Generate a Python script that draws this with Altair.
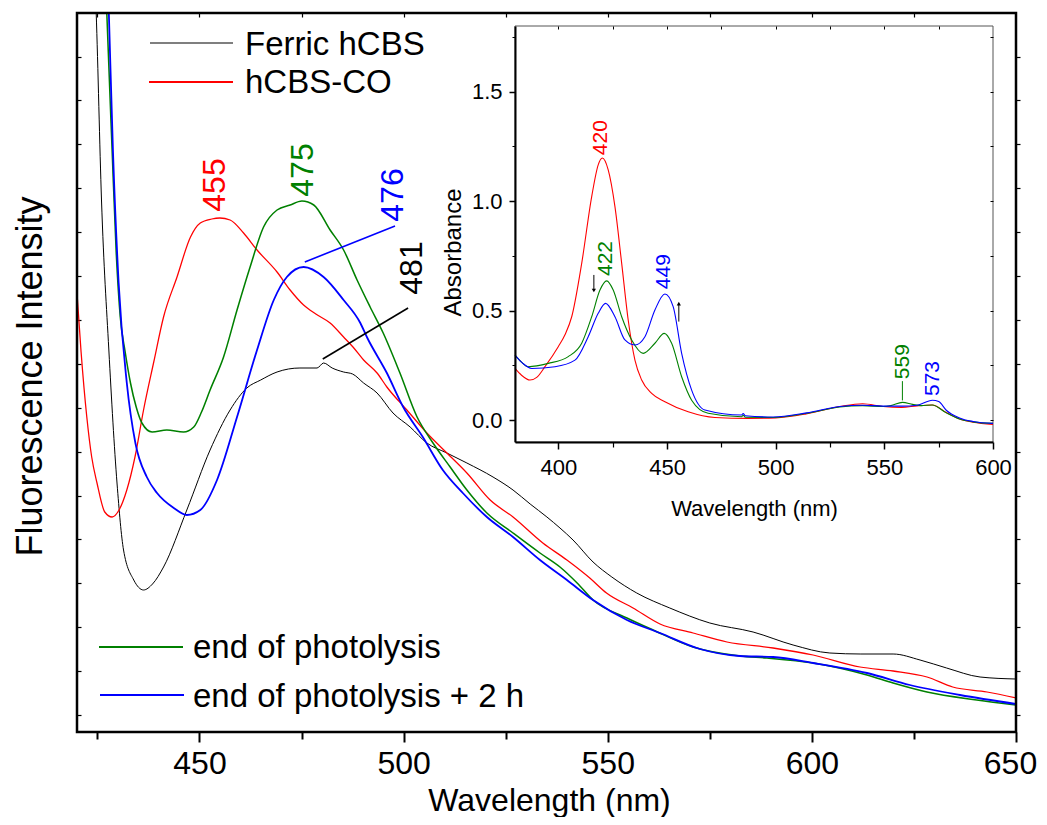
import altair as alt
import pandas as pd

# ---------------- main panel: fluorescence emission (arbitrary units) ----------------
ferric_nm = [423.9, 424.7, 426.0, 427.8, 429.8, 431.4, 433.9, 436.3, 438.5, 441.2, 446.9, 452.6,
             457.5, 461.6, 465.0, 469.0, 474.6, 478.8, 480.4, 482.5, 485.3, 487.5, 490.2, 493.5,
             497.4, 501.6, 505.7, 510.6, 515.5, 521.9, 526.8, 531.0, 535.1, 538.3, 541.5, 546.4,
             551.0, 557.1, 565.2, 575.0, 585.6, 595.4, 604.4, 612.0, 619.9, 626.5, 633.0, 641.2, 650.0]
ferric_int = [800, 719, 532, 382, 249, 182, 152, 142, 148, 165, 222, 282,
              322, 344, 352, 360, 364, 364, 369, 364, 360, 358, 349, 339,
              319, 305, 289, 279, 269, 255, 242, 228, 215, 204, 192, 170,
              155, 139, 124, 109, 100, 87, 79, 78, 78, 72, 64, 55, 53]

co_nm = [420.0, 421.0, 422.4, 423.6, 424.9, 426.8, 428.6, 430.3, 432.2, 434.2, 436.3, 438.8,
         441.2, 444.5, 447.8, 450.2, 453.0, 455.0, 457.5, 460.8, 464.1, 469.0, 472.2, 475.5,
         478.5, 482.0, 485.3, 487.6, 490.2, 493.5, 495.9, 500.8, 505.7, 510.6, 515.5, 521.2,
         526.8, 534.1, 540.0, 545.6, 549.7, 556.2, 562.8, 570.9, 579.2, 590.5, 600.3, 611.8,
         619.9, 628.2, 634.5, 642.9, 650.0]
co_int = [439, 380, 315, 275, 249, 220, 215, 222, 242, 275, 322, 370,
          415, 455, 495, 509, 513, 514, 512, 499, 482, 460, 442, 427,
          418, 409, 395, 385, 372, 359, 345, 322, 299, 279, 259, 232,
          215, 189, 172, 154, 139, 124, 108, 99, 90, 84, 77, 65,
          61, 55, 45, 40, 34]

end_nm = [426.6, 427.3, 428.6, 429.6, 430.6, 431.8, 433.1, 434.5, 435.9, 438.4, 442.0, 446.1,
          448.6, 450.5, 452.6, 455.9, 459.2, 462.4, 465.7, 469.0, 472.2, 475.1, 478.0, 482.0,
          485.3, 488.6, 491.8, 495.0, 499.1, 503.3, 507.2, 511.4, 515.5, 520.4, 526.8, 533.4,
          538.3, 542.5, 546.4, 554.7, 561.1, 570.9, 582.4, 589.0, 600.3, 613.5, 619.9, 628.2,
          640.4, 650.0]
end_int = [800, 719, 582, 480, 415, 380, 349, 325, 309, 300, 302, 300,
           305, 320, 342, 375, 422, 465, 505, 522, 527, 531, 527, 502,
           482, 452, 425, 399, 359, 315, 289, 265, 242, 219, 199, 179,
           165, 149, 132, 114, 102, 85, 76, 74, 69, 57, 49, 40,
           32, 27]

end2h_nm = [427.2, 427.8, 428.8, 430.2, 432.2, 434.3, 437.1, 439.6, 443.7, 446.9, 450.2, 454.3,
            459.2, 464.1, 468.2, 471.4, 475.5, 480.4, 485.3, 489.4, 491.0, 495.9, 499.9, 504.7,
            509.6, 514.5, 520.4, 526.8, 533.4, 540.0, 546.4, 554.7, 562.8, 572.6, 582.4, 590.5,
            600.3, 613.5, 624.0, 636.3, 650.0]
end2h_int = [800, 719, 582, 449, 349, 289, 255, 239, 224, 217, 222, 252,
             315, 382, 432, 455, 465, 455, 432, 409, 395, 359, 325, 295,
             262, 239, 215, 195, 172, 152, 132, 112, 99, 83, 76, 75,
             69, 59, 47, 37, 28]

series_names = ["Ferric hCBS", "hCBS-CO", "end of photolysis", "end of photolysis + 2 h"]
series_colors = ["#000000", "#ff0000", "#008000", "#0000ff"]
series_widths = [1.0, 1.8, 1.6, 1.8]

# peak labels of the main panel
main_peak_labels = ["455", "475", "476", "481"]
main_peak_x = [453.8, 475.4, 497.4, 502.0]
main_peak_y = [547, 562, 537, 464]
main_peak_colors = ["#ff0000", "#008000", "#0000ff", "#000000"]
leader_x = [475.8, 480.2]
leader_x2 = [497.9, 501.1]
leader_y = [470, 373]
leader_y2 = [506, 424]
leader_colors = ["#0000ff", "#000000"]

# ---------------- inset: absorbance spectra ----------------
abs_co_nm = [380, 383, 386.9, 390, 393.8, 399.9, 403, 406.1, 410.7, 415.3, 418.3, 420.2, 422.9,
             426, 429.1, 432.1, 435.2, 438.3, 442.9, 449, 459.7, 472, 487.3, 500, 514, 529.5,
             540, 549.4, 558, 565, 572, 578.5, 584.6, 590.8, 600]
abs_co = [0.236, 0.205, 0.183, 0.195, 0.244, 0.335, 0.39, 0.472, 0.716, 1.021, 1.166, 1.197, 1.143,
          0.975, 0.716, 0.457, 0.274, 0.183, 0.122, 0.084, 0.038, 0.012, 0.008, 0.01, 0.028, 0.062,
          0.075, 0.062, 0.058, 0.065, 0.069, 0.035, 0.005, -0.01, -0.02]

abs_end_nm = [380, 383, 386.1, 395.3, 404.5, 410.7, 415.3, 419.1, 422.2, 425.2, 429.1, 433.7,
              439, 444.4, 448.7, 452.1, 456.7, 461.3, 468.9, 484.3, 485, 486, 498.8, 514.2,
              529.5, 540, 549.4, 553, 558.3, 563, 567, 572, 578.5, 584.6, 590.8, 600]
abs_end = [0.297, 0.265, 0.244, 0.259, 0.290, 0.351, 0.472, 0.594, 0.636, 0.594, 0.472, 0.366,
           0.305, 0.351, 0.396, 0.351, 0.198, 0.091, 0.031, 0.015, 0.022, 0.013, 0.012, 0.031,
           0.06, 0.066, 0.062, 0.066, 0.081, 0.072, 0.066, 0.069, 0.033, 0.005, -0.008, -0.015]

abs_end2h_nm = [380, 383.5, 387.7, 398.4, 407.6, 413.7, 418.3, 421.7, 426, 430.6, 435.2, 439.8,
                444.4, 449, 452.8, 456.7, 461.3, 467.4, 484.3, 485, 486, 498.8, 514.2, 529.5,
                540, 549.4, 558.3, 565, 572.1, 575, 578.5, 584.6, 590.8, 600]
abs_end2h = [0.297, 0.26, 0.236, 0.244, 0.274, 0.381, 0.488, 0.533, 0.472, 0.366, 0.343, 0.381,
             0.503, 0.576, 0.518, 0.305, 0.137, 0.046, 0.023, 0.03, 0.02, 0.014, 0.033, 0.062,
             0.068, 0.064, 0.064, 0.068, 0.091, 0.085, 0.045, 0.01, -0.006, -0.015]

inset_peak_labels = ["420", "422", "449", "559", "573"]
inset_peak_x = [419.4, 421.9, 448.7, 558.4, 572.5]
inset_peak_y = [1.29, 0.738, 0.678, 0.267, 0.19]
inset_peak_colors = ["#ff0000", "#008000", "#0000ff", "#008000", "#0000ff"]

# leader of 559 and the two arrows (shaft start -> tip)
inset_rule_x = [558.3, 416.3, 455.4]
inset_rule_y = [0.178, 0.663, 0.450]
inset_rule_y2 = [0.090, 0.592, 0.532]
inset_rule_colors = ["#008000", "#000000", "#000000"]
arrow_x = [416.3, 455.4]
arrow_y = [0.592, 0.532]
arrow_shape = ["triangle-down", "triangle-up"]

main_ticks_y = [17 + 43.9 * k for k in range(17)]
FONT = "Liberation Sans"

# ---------------- tables ----------------
def long(names, xs, ys, xname, yname):
    rows = []
    for n, xv, yv in zip(names, xs, ys):
        for a, b in zip(xv, yv):
            rows.append({"series": n, xname: a, yname: b})
    return pd.DataFrame(rows)

main_df = long(series_names,
               [ferric_nm, co_nm, end_nm, end2h_nm],
               [ferric_int, co_int, end_int, end2h_int], "nm", "intensity")
inset_df = long(series_names[1:],
                [abs_co_nm, abs_end_nm, abs_end2h_nm],
                [abs_co, abs_end, abs_end2h], "nm", "A")

main_lab_df = pd.DataFrame({"label": main_peak_labels, "nm": main_peak_x,
                            "intensity": main_peak_y, "c": main_peak_colors})
main_lead_df = pd.DataFrame({"nm": leader_x, "nm2": leader_x2, "intensity": leader_y,
                             "intensity2": leader_y2, "c": leader_colors})
inset_lab_df = pd.DataFrame({"label": inset_peak_labels, "nm": inset_peak_x,
                             "A": inset_peak_y, "c": inset_peak_colors})
inset_rule_df = pd.DataFrame({"nm": inset_rule_x, "A": inset_rule_y, "A2": inset_rule_y2,
                              "c": inset_rule_colors})
arrow_df = pd.DataFrame({"nm": arrow_x, "A": arrow_y, "shape": arrow_shape})

W, H = 939, 719
main_x = alt.Scale(domain=[420, 650], nice=False, zero=False)
main_y = alt.Scale(domain=[0, 719], nice=False, zero=False)
ins_x = alt.Scale(domain=[380, 600], range=[438, 916], nice=False, zero=False)
ins_y = alt.Scale(domain=[-0.1, 1.8], range=[429, 13], nice=False, zero=False)

def blank_axis(**kw):
    base = dict(labels=False, domain=False, title=None, grid=False, tickColor="black")
    base.update(kw)
    return alt.Axis(**base)

# main curves
main_lines = alt.Chart(main_df).mark_line(interpolate="monotone", clip=True).encode(
    x=alt.X("nm:Q", scale=main_x, axis=alt.Axis(
        orient="bottom", values=[450, 500, 550, 600, 650], tickSize=10, tickWidth=2,
        tickColor="black", domain=False, grid=False, labelFontSize=32, labelColor="black",
        labelPadding=6, labelFlush=False, labelOverlap=False, labelFont=FONT,
        labelOffset={"condition": {"test": "datum.value == 650", "value": -6}, "value": 0},
        title="Wavelength (nm)", titleFontSize=32, titleFontWeight="normal", titleColor="black",
        titleFont=FONT, titleX=472, titleY=78, titleBaseline="alphabetic", titleAlign="center")),
    y=alt.Y("intensity:Q", scale=main_y, axis=alt.Axis(
        orient="left", ticks=False, labels=False, domain=False, grid=False,
        title="Fluorescence Intensity", titleFontSize=36, titleFontWeight="normal",
        titleColor="black", titleFont=FONT, titleX=-47, titleY=363, titleAngle=270,
        titleAlign="center", titleBaseline="middle")),
    color=alt.Color("series:N", scale=alt.Scale(domain=series_names, range=series_colors), legend=None),
    strokeWidth=alt.StrokeWidth("series:N", scale=alt.Scale(domain=series_names, range=series_widths), legend=None),
    detail="series:N",
)

main_labels = alt.Chart(main_lab_df).mark_text(angle=270, fontSize=32, font=FONT,
                                               align="center", baseline="middle").encode(
    x=alt.X("nm:Q", scale=main_x, axis=blank_axis(orient="bottom", values=[425, 475, 525, 575, 625],
                                                  tickSize=7, tickWidth=2)),
    y=alt.Y("intensity:Q", scale=main_y, axis=blank_axis(orient="right", offset=-W, values=main_ticks_y,
                                                         tickSize=4, tickWidth=1.2)),
    text="label:N",
    color=alt.Color("c:N", scale=None),
)

main_leaders = alt.Chart(main_lead_df).mark_rule(strokeWidth=1.6).encode(
    x=alt.X("nm:Q", scale=main_x, axis=blank_axis(orient="bottom", offset=-H,
                                                  values=[425 + 25 * k for k in range(9)],
                                                  tickSize=4, tickWidth=1.2)),
    x2="nm2:Q",
    y=alt.Y("intensity:Q", scale=main_y, axis=blank_axis(orient="right", values=main_ticks_y,
                                                         tickSize=4, tickWidth=1.2)),
    y2="intensity2:Q",
    color=alt.Color("c:N", scale=None),
)

# legends drawn as sample line + label
def legend_item(label, color, width, x0, x1, ly, ty, tx):
    r = alt.Chart(pd.DataFrame({"k": [0]})).mark_rule(color=color, strokeWidth=width).encode(
        x=alt.value(x0), x2=alt.value(x1), y=alt.value(ly))
    t = alt.Chart(pd.DataFrame({"k": [0]})).mark_text(
        text=label, fontSize=33, font=FONT, align="left", baseline="alphabetic", color="black").encode(
        x=alt.value(tx), y=alt.value(ty))
    return [r, t]

legend_layers = (legend_item(series_names[0], "#000000", 1.2, 73, 156, 30, 42, 168)
                 + legend_item(series_names[1], "#ff0000", 1.8, 72, 156, 69, 80, 168)
                 + legend_item(series_names[2], "#008000", 1.8, 22, 106, 634, 645, 116)
                 + legend_item(series_names[3], "#0000ff", 2.0, 23, 107, 682, 694, 116))

# inset frame
inset_box = alt.Chart(pd.DataFrame({"k": [0]})).mark_rect(fill="white", stroke="#555555",
                                                          strokeWidth=1).encode(
    x=alt.value(438), x2=alt.value(916), y=alt.value(13), y2=alt.value(429))

inset_lines = alt.Chart(inset_df).mark_line(interpolate="monotone", strokeWidth=1.1).encode(
    x=alt.X("nm:Q", scale=ins_x, axis=alt.Axis(
        orient="bottom", offset=-290, values=[400, 450, 500, 550, 600], tickSize=7, tickWidth=1.5,
        tickColor="black", domain=True, domainWidth=2, domainColor="black", grid=False,
        labelFontSize=22, labelColor="black", labelPadding=8, labelFlush=False, labelFont=FONT,
        labelOverlap=False, title="Wavelength (nm)", titleFontSize=22, titleFontWeight="normal",
        titleColor="black", titleFont=FONT, titleY=73, titleBaseline="alphabetic", zindex=1)),
    y=alt.Y("A:Q", scale=ins_y, axis=alt.Axis(
        orient="left", offset=-438, values=[0, 0.5, 1.0, 1.5], format=".1f", tickSize=6,
        tickWidth=1.5, tickColor="black", domain=True, domainWidth=2, domainColor="black",
        grid=False, labelFontSize=22, labelColor="black", labelPadding=7, labelFont=FONT,
        title="Absorbance", titleFontSize=24, titleFontWeight="normal", titleColor="black",
        titleFont=FONT, titleX=-62, titleY=239, titleAngle=270, titleAlign="center",
        titleBaseline="middle", zindex=1)),
    color=alt.Color("series:N", scale=alt.Scale(domain=series_names, range=series_colors), legend=None),
    detail="series:N",
)

inset_labels = alt.Chart(inset_lab_df).mark_text(angle=270, fontSize=21, font=FONT,
                                                 align="center", baseline="middle").encode(
    x=alt.X("nm:Q", scale=ins_x, axis=blank_axis(orient="bottom", offset=-290,
                                                 values=[425, 475, 525, 575], tickSize=5,
                                                 tickWidth=1.2, zindex=1)),
    y=alt.Y("A:Q", scale=ins_y, axis=blank_axis(orient="left", offset=-438,
                                                values=[0.25, 0.75, 1.25, 1.75], tickSize=3,
                                                tickWidth=1, zindex=1)),
    text="label:N",
    color=alt.Color("c:N", scale=None),
)

inset_rules = alt.Chart(inset_rule_df).mark_rule(strokeWidth=1).encode(
    x=alt.X("nm:Q", scale=ins_x, axis=blank_axis(orient="bottom", offset=-(H - 13),
                                                 values=[400 + 25 * k for k in range(8)],
                                                 tickSize=3, tickWidth=1, zindex=1)),
    y=alt.Y("A:Q", scale=ins_y, axis=blank_axis(orient="left", offset=-916,
                                                values=[0.25 * k for k in range(8)],
                                                tickSize=3, tickWidth=1, zindex=1)),
    y2="A2:Q",
    color=alt.Color("c:N", scale=None),
)

arrow_heads = alt.Chart(arrow_df).mark_point(filled=True, size=18, color="black", opacity=1).encode(
    x=alt.X("nm:Q", scale=ins_x, axis=None),
    y=alt.Y("A:Q", scale=ins_y, axis=None),
    shape=alt.Shape("shape:N", scale=None),
)

# heavy frame around the main plot
frame = alt.Chart(pd.DataFrame({"k": [0]})).mark_rect(filled=False, stroke="black",
                                                      strokeWidth=2.5).encode(
    x=alt.value(0), x2=alt.value(W), y=alt.value(0), y2=alt.value(H))

chart = alt.layer(
    main_lines, main_labels, main_leaders, *legend_layers,
    inset_box, inset_lines, inset_labels, inset_rules, arrow_heads, frame,
).resolve_scale(
    x="independent", y="independent", color="independent", strokeWidth="independent", shape="independent"
).resolve_axis(
    x="independent", y="independent"
).properties(
    width=W, height=H,
    autosize=alt.AutoSizeParams(type="none"),
    padding={"left": 69, "top": 5, "right": 23, "bottom": 85},
    background="white",
).configure_view(
    stroke=None
).configure(font=FONT)

chart.save("out.html", embed_options={"renderer": "svg", "actions": False})
